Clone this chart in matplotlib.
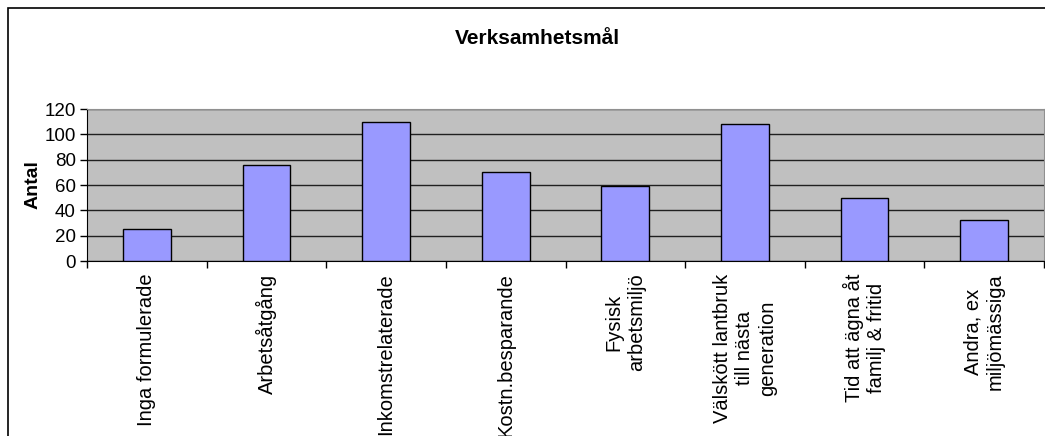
import matplotlib.pyplot as plt
from matplotlib.patches import Rectangle

plt.rcParams['font.family'] = ['Liberation Sans', 'DejaVu Sans']

# Svar per verksamhetsmål
kategorier = [
    "Inga formulerade",
    "Arbetsåtgång",
    "Inkomstrelaterade",
    "Kostn.besparande",
    "Fysisk\narbetsmiljö",
    "Välskött lantbruk\ntill nästa\ngeneration",
    "Tid att ägna åt\nfamilj & fritid",
    "Andra, ex\nmiljömässiga",
]
antal = [25, 76, 110, 70, 59, 108, 50, 32]
y_ticks = [0, 20, 40, 60, 80, 100, 120]

fig = plt.figure(figsize=(10.45, 4.36), dpi=100)
fig.patch.set_facecolor('white')

# ram runt hela diagrammet
fig.patches.append(Rectangle((8 / 1045, -0.1), 1.2, 1 - 8 / 436 + 0.1,
                             transform=fig.transFigure, fill=False,
                             edgecolor='black', linewidth=1.2))

ax = fig.add_axes([87 / 1045, 175 / 436, 957 / 1045, 152 / 436])
ax.set_facecolor('#C0C0C0')

x = range(len(antal))
ax.bar(x, antal, width=0.4, color='#9999FF', edgecolor='black',
       linewidth=1.0, zorder=3)

ax.set_xlim(-0.5, len(antal) - 0.5)
ax.set_ylim(0, 120)
ax.set_yticks(y_ticks)
ax.yaxis.grid(True, color='#202020', linewidth=1.0, zorder=1)
ax.set_axisbelow(True)

ax.set_xticks(list(x))
ax.set_xticklabels(kategorier, rotation=90, ha='center', va='top',
                   multialignment='center', linespacing=1.25, fontsize=14.5)
ax.tick_params(axis='x', which='major', length=0, pad=9)
ax.set_xticks([i - 0.5 for i in range(len(antal) + 1)], minor=True)
ax.tick_params(axis='x', which='minor', length=5, width=1, direction='out')
ax.tick_params(axis='y', length=5, width=1, direction='out', pad=3,
               labelsize=13.5)

for side in ['top', 'right']:
    ax.spines[side].set_color('#909090')
for side in ['left', 'bottom']:
    ax.spines[side].set_color('black')

ax.set_ylabel('Antal', fontsize=14, fontweight='bold', labelpad=2)
fig.text(537 / 1045, 1 - 39 / 436, 'Verksamhetsmål', ha='center',
         va='center', fontsize=15, fontweight='bold')

fig.savefig('out.png', dpi=100)
